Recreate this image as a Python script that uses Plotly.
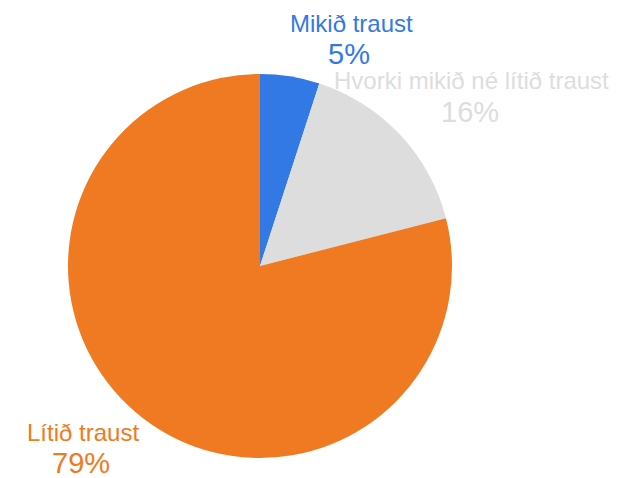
import plotly.graph_objects as go

labels = ['Mikið traust', 'Hvorki mikið né lítið traust', 'Lítið traust']
values = [5, 16, 79]
colors = ['#3279E5', '#DDDDDD', '#F07A22']
text_colors = ['#3279E5', '#DDDDDD', '#F07A22']

W, H = 638, 478

# label placement in pixels (name centre, pct centre)
label_pos = [
    (351, 23, 349, 54),
    (471, 80, 470, 112),
    (83, 432, 81, 463),
]

total = sum(values)

fig = go.Figure(
    go.Pie(
        labels=labels,
        values=values,
        sort=False,
        direction='clockwise',
        rotation=0,
        marker=dict(colors=colors, line=dict(width=0)),
        textinfo='none',
        showlegend=False,
        domain=dict(x=[68 / W, 452 / W], y=[1 - 458 / H, 1 - 74 / H]),
    )
)

annotations = []
for lab, val, col, (nx, ny, px, py) in zip(labels, values, text_colors, label_pos):
    annotations.append(dict(
        x=nx / W, y=1 - ny / H, xref='paper', yref='paper',
        xanchor='center', yanchor='middle', showarrow=False,
        text=lab, font=dict(size=24, color=col),
    ))
    annotations.append(dict(
        x=px / W, y=1 - py / H, xref='paper', yref='paper',
        xanchor='center', yanchor='middle', showarrow=False,
        text=f'{round(val / total * 100)}%', font=dict(size=29, color=col),
    ))

fig.update_layout(
    width=W,
    height=H,
    margin=dict(l=0, r=0, t=0, b=0),
    paper_bgcolor='white',
    font=dict(family='Arial, Liberation Sans, sans-serif'),
    annotations=annotations,
)

# drop the default body margin so the figure sits at the window origin
fig.write_html(
    'out.html',
    config={'displayModeBar': False},
    post_script="document.body.style.margin='0';",
)
